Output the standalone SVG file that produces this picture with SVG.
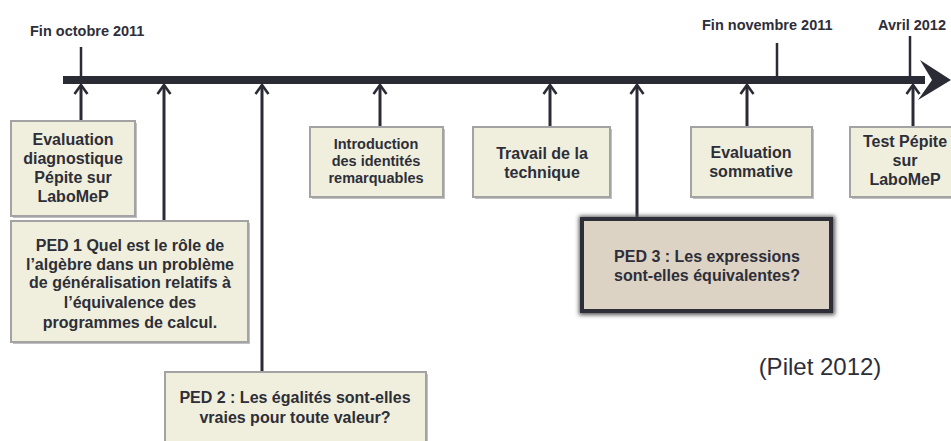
<svg xmlns="http://www.w3.org/2000/svg" width="951" height="441" viewBox="0 0 951 441">
<style>
  .lbl{font-family:"Liberation Sans",Arial,sans-serif;font-weight:bold;fill:#2e2e38;text-anchor:middle;font-size:16px}
  .sm{font-size:14.5px}
  .date{font-family:"Liberation Sans",Arial,sans-serif;font-weight:bold;fill:#2e2e38;font-size:14.5px}
  .box{fill:#f0efdd;stroke:#a3a3a3;stroke-width:2}
  .shadow{fill:#8e8e8e;opacity:0.55}
  .conn{stroke:#2b2b36;stroke-width:3;fill:none}
  .tick{stroke:#2b2b36;stroke-width:2.5}
</style>
<defs>
  <marker id="up" markerUnits="userSpaceOnUse" markerWidth="14" markerHeight="16" refX="11" refY="7.5" orient="auto" viewBox="0 0 14 15">
    <path d="M2,1 L11,7.5 L2,14" fill="none" stroke="#2b2b36" stroke-width="2.6"/>
  </marker>
  <filter id="glow" x="-10%" y="-15%" width="120%" height="130%">
    <feGaussianBlur stdDeviation="2"/>
  </filter>
</defs>

<!-- timeline -->
<g id="timeline">
  <rect x="63" y="76" width="862" height="8" fill="#2b2b36"/>
  <polygon points="920,60 951,80 918,100 932,80" fill="#2b2b36"/>
  <line class="tick" x1="81" y1="47" x2="81" y2="78"/>
  <line class="tick" x1="777" y1="43" x2="777" y2="78"/>
  <line class="tick" x1="910" y1="36" x2="910" y2="78"/>
  <text class="date" x="30" y="36">Fin octobre 2011</text>
  <text class="date" x="702" y="30">Fin novembre 2011</text>
  <text class="date" x="878" y="30">Avril 2012</text>
</g>

<!-- connectors -->
<g id="connectors">
  <line class="conn" x1="81" y1="121" x2="81" y2="85" marker-end="url(#up)"/>
  <line class="conn" x1="164" y1="221" x2="164" y2="85" marker-end="url(#up)"/>
  <line class="conn" x1="262" y1="372" x2="262" y2="85" marker-end="url(#up)"/>
  <line class="conn" x1="380" y1="127" x2="380" y2="85" marker-end="url(#up)"/>
  <line class="conn" x1="550" y1="127" x2="550" y2="85" marker-end="url(#up)"/>
  <line class="conn" x1="637" y1="217" x2="637" y2="85" marker-end="url(#up)"/>
  <line class="conn" x1="747" y1="127" x2="747" y2="85" marker-end="url(#up)"/>
  <line class="conn" x1="913" y1="127" x2="913" y2="85" marker-end="url(#up)"/>
</g>

<g id="eval-diag">
  <rect class="shadow" x="13" y="123" width="124" height="95"/>
  <rect class="box" x="11" y="121" width="124" height="95"/>
  <text class="lbl" x="73" y="145">Evaluation</text>
  <text class="lbl" x="73" y="164">diagnostique</text>
  <text class="lbl" x="73" y="183">Pépite sur</text>
  <text class="lbl" x="73" y="202">LaboMeP</text>
</g>

<g id="ped1">
  <rect class="shadow" x="13" y="223" width="237" height="121"/>
  <rect class="box" x="11" y="221" width="237" height="121"/>
  <text class="lbl" x="130" y="251">PED 1 Quel est le rôle de</text>
  <text class="lbl" x="130" y="270">l’algèbre dans un problème</text>
  <text class="lbl" x="130" y="288">de généralisation relatifs à</text>
  <text class="lbl" x="130" y="308">l’équivalence des</text>
  <text class="lbl" x="130" y="328">programmes de calcul.</text>
</g>

<g id="ped2">
  <rect class="shadow" x="167" y="374" width="261" height="80"/>
  <rect class="box" x="165" y="372" width="261" height="80"/>
  <text class="lbl" x="295" y="403">PED 2 : Les égalités sont-elles</text>
  <text class="lbl" x="295" y="423">vraies pour toute valeur?</text>
</g>

<g id="intro">
  <rect class="shadow" x="312" y="129" width="133" height="70"/>
  <rect class="box" x="310" y="127" width="133" height="70"/>
  <text class="lbl sm" x="376" y="149">Introduction</text>
  <text class="lbl sm" x="376" y="166">des identités</text>
  <text class="lbl sm" x="376" y="183">remarquables</text>
</g>

<g id="travail">
  <rect class="shadow" x="475" y="129" width="137" height="70"/>
  <rect class="box" x="473" y="127" width="137" height="70"/>
  <text class="lbl" x="542" y="159">Travail de la</text>
  <text class="lbl" x="542" y="178">technique</text>
</g>

<g id="eval-somm">
  <rect class="shadow" x="693" y="129" width="121" height="70"/>
  <rect class="box" x="691" y="127" width="121" height="70"/>
  <text class="lbl" x="751" y="158">Evaluation</text>
  <text class="lbl" x="751" y="177">sommative</text>
</g>

<g id="test-pepite">
  <rect class="shadow" x="852" y="129" width="104" height="70"/>
  <rect class="box" x="850" y="127" width="104" height="70"/>
  <text class="lbl" x="905" y="147">Test Pépite</text>
  <text class="lbl" x="905" y="166">sur</text>
  <text class="lbl" x="905" y="185">LaboMeP</text>
</g>

<g id="ped3">
  <rect x="579" y="216" width="256" height="99" fill="#555" filter="url(#glow)"/>
  <rect x="582" y="219" width="249" height="92" fill="#dcd3c5" stroke="#2e2e38" stroke-width="4"/>
  <text class="lbl" x="707" y="262">PED 3 : Les expressions</text>
  <text class="lbl" x="707" y="281">sont-elles équivalentes?</text>
</g>

<g id="source">
  <text x="820" y="375" font-family="'Liberation Sans',Arial,sans-serif" font-size="24" fill="#2e2e38" text-anchor="middle">(Pilet 2012)</text>
</g>
</svg>
